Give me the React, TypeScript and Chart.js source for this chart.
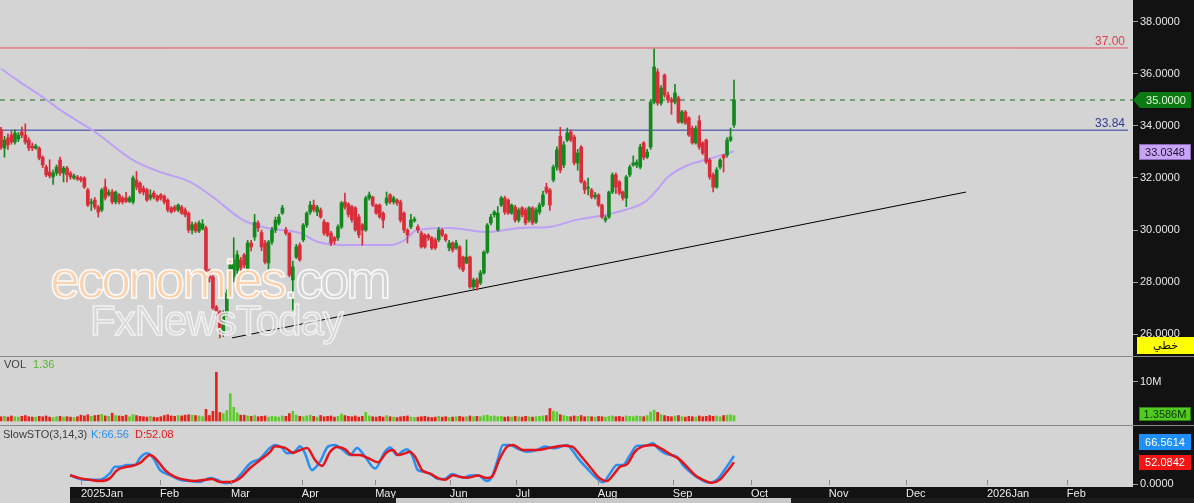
import React, { useEffect, useRef } from "react";
import { Chart, registerables } from "chart.js";
Chart.register(...registerables);

const FONT = '"Liberation Sans", Arial, sans-serif';
Chart.defaults.font.family = FONT;

// ---------- DATA ----------
const monthTickIdx = [23.0, 45.8, 66.2, 86.6, 107.7, 129.2, 148.2, 171.8, 193.4, 215.9, 238.3, 260.5, 283.8, 306.8];
const monthTickLabels = ["2025Jan", "Feb", "Mar", "Apr", "May", "Jun", "Jul", "Aug", "Sep", "Oct", "Nov", "Dec", "2026Jan", "Feb"];

const opens = [
  33.85, 33.15, 33.54, 33.65, 33.38, 33.50, 33.77, 33.65, 33.46, 33.23,
  33.15, 33.15, 32.80, 32.42, 32.23, 32.04, 32.19, 32.69, 32.19, 32.38,
  32.19, 32.00, 32.04, 32.00, 32.00, 31.54, 31.03, 31.15, 30.88, 30.77,
  31.65, 31.35, 31.46, 31.08, 31.35, 31.23, 31.23, 31.10, 31.08, 31.92,
  31.80, 31.60, 31.54, 31.23, 31.42, 31.30, 31.35, 31.30, 31.15, 30.85,
  30.88, 30.77, 30.88, 30.77, 30.65, 30.00, 30.23, 29.96, 30.04, 30.08,
  28.46, 28.19, 27.04, 26.85, 26.08, 26.80, 27.58, 28.20, 28.45, 28.85,
  29.04, 28.46, 29.50, 29.73, 30.27, 29.90, 29.50, 28.73, 29.54, 30.00,
  30.27, 30.65, 30.00, 29.88, 28.08, 28.96, 29.42, 29.62, 30.19, 30.69,
  30.96, 30.69, 30.77, 30.31, 30.27, 29.88, 29.70, 29.70, 30.12, 31.08,
  31.00, 30.90, 30.85, 30.50, 30.20, 30.00, 31.23, 31.27, 30.96, 30.96,
  30.65, 31.04, 31.35, 31.08, 31.15, 31.08, 30.65, 30.00, 30.12, 30.35,
  30.12, 29.88, 29.80, 29.80, 29.70, 29.62, 29.62, 30.00, 29.81, 29.31,
  29.50, 29.31, 29.35, 28.96, 28.73, 28.96, 27.81, 28.08, 27.96, 28.35,
  29.15, 30.27, 30.58, 30.00, 30.96, 31.23, 31.15, 30.65, 30.88, 30.38,
  30.85, 30.77, 30.38, 30.85, 30.31, 30.69, 30.96, 31.65, 31.54, 31.92,
  32.42, 33.60, 32.50, 33.46, 33.77, 33.58, 32.58, 33.19, 31.85, 31.60,
  31.54, 31.27, 31.35, 30.96, 30.38, 30.50, 31.46, 32.12, 31.85, 31.46,
  31.23, 32.12, 32.50, 32.50, 32.42, 33.35, 32.80, 33.19, 34.92, 36.08,
  34.88, 35.96, 35.19, 35.00, 34.92, 35.08, 34.15, 34.54, 34.31, 33.92,
  33.35, 34.20, 33.35, 33.46, 32.69, 32.12, 31.65, 32.42, 32.88, 32.88,
  33.46, 34.04,
];
const highs = [
  33.95, 33.60, 33.70, 33.80, 33.85, 33.75, 33.96, 34.08, 33.55, 33.35,
  33.30, 33.20, 32.85, 32.50, 32.70, 32.30, 32.50, 32.80, 32.45, 32.45,
  32.25, 32.15, 32.10, 32.05, 32.05, 31.60, 31.20, 31.25, 30.95, 31.60,
  31.96, 31.55, 31.55, 31.50, 31.40, 31.30, 31.45, 31.30, 32.08, 32.25,
  31.85, 31.70, 31.60, 31.55, 31.50, 31.35, 31.40, 31.35, 31.20, 30.90,
  30.95, 31.00, 30.95, 30.85, 30.70, 30.30, 30.30, 30.35, 30.40, 30.15,
  28.50, 28.25, 27.10, 26.90, 26.90, 27.70, 28.75, 29.70, 29.20, 28.95,
  29.10, 29.60, 29.60, 30.60, 30.35, 30.00, 29.60, 29.60, 30.10, 30.50,
  30.60, 30.95, 30.10, 29.90, 28.80, 29.45, 29.50, 30.25, 30.70, 31.10,
  31.15, 30.95, 30.85, 30.40, 30.30, 29.95, 29.75, 30.20, 31.10, 31.42,
  31.05, 30.95, 30.90, 30.60, 30.25, 31.30, 31.46, 31.30, 31.00, 31.00,
  30.70, 31.46, 31.40, 31.30, 31.20, 31.15, 30.70, 30.05, 30.60, 30.50,
  30.20, 29.95, 29.85, 29.85, 29.75, 29.70, 30.10, 30.05, 29.85, 29.60,
  29.55, 29.60, 29.40, 29.00, 29.62, 29.00, 28.15, 28.15, 28.45, 29.20,
  30.25, 30.60, 30.75, 30.90, 31.30, 31.30, 31.20, 31.00, 30.95, 30.85,
  30.90, 30.85, 30.90, 30.90, 30.85, 31.05, 31.50, 31.80, 31.60, 32.50,
  33.20, 33.95, 33.40, 33.92, 33.85, 33.65, 33.10, 33.25, 31.90, 32.00,
  31.60, 31.45, 31.40, 31.00, 30.55, 31.50, 32.20, 32.20, 31.90, 31.50,
  32.10, 32.50, 32.85, 32.70, 33.30, 33.40, 33.10, 35.00, 36.96, 36.20,
  35.55, 36.00, 35.30, 35.10, 35.60, 35.15, 34.60, 34.60, 34.35, 34.00,
  34.00, 34.40, 33.40, 33.50, 32.75, 32.20, 32.40, 32.75, 32.90, 33.55,
  33.92, 35.77,
];
const lows = [
  33.10, 32.80, 33.10, 33.30, 33.30, 33.40, 33.55, 33.30, 33.05, 33.05,
  33.10, 32.70, 32.40, 32.05, 32.00, 31.75, 32.10, 32.10, 31.85, 31.85,
  31.95, 31.95, 31.90, 31.85, 31.60, 30.90, 30.75, 30.80, 30.50, 30.70,
  31.15, 31.30, 31.00, 31.00, 31.00, 31.00, 31.05, 31.05, 31.00, 31.55,
  31.40, 31.35, 31.10, 31.15, 31.20, 31.10, 31.15, 31.00, 30.70, 30.65,
  30.70, 30.70, 30.60, 30.50, 29.90, 29.85, 29.90, 29.90, 30.00, 28.40,
  28.00, 26.95, 26.70, 25.85, 25.90, 26.70, 27.50, 28.00, 28.30, 28.40,
  28.55, 28.40, 29.20, 29.60, 29.95, 29.20, 28.70, 28.50, 29.45, 29.90,
  30.20, 30.60, 29.80, 28.20, 26.92, 28.90, 28.80, 29.55, 30.10, 30.60,
  30.70, 30.55, 30.45, 29.80, 29.75, 29.40, 29.45, 29.60, 30.05, 30.80,
  30.50, 30.30, 29.95, 29.70, 29.42, 29.95, 31.15, 30.90, 30.60, 30.45,
  30.08, 30.95, 31.00, 31.00, 30.95, 30.30, 29.90, 29.50, 30.05, 30.30,
  29.90, 29.30, 29.30, 29.60, 29.25, 29.25, 29.55, 29.75, 29.55, 29.20,
  29.15, 29.25, 28.50, 28.40, 28.70, 27.75, 27.70, 27.69, 27.90, 28.30,
  29.10, 30.20, 30.50, 29.95, 30.90, 30.60, 30.60, 30.60, 30.30, 30.30,
  30.50, 30.20, 30.30, 30.20, 30.25, 30.60, 30.90, 31.40, 30.75, 31.85,
  32.30, 32.20, 32.40, 33.40, 33.40, 32.50, 32.30, 31.80, 31.40, 31.35,
  31.20, 31.20, 30.90, 30.45, 30.30, 30.45, 31.40, 31.40, 31.35, 31.15,
  30.90, 32.05, 32.45, 32.40, 32.35, 32.70, 32.75, 33.10, 34.85, 34.80,
  34.80, 35.10, 34.90, 34.45, 34.85, 34.10, 34.10, 34.05, 33.60, 33.30,
  33.30, 33.10, 32.90, 32.55, 31.95, 31.46, 31.60, 32.35, 32.23, 32.80,
  33.40, 33.95,
];
const closes = [
  33.19, 33.46, 33.27, 33.38, 33.73, 33.65, 33.65, 33.38, 33.15, 33.15,
  33.23, 32.77, 32.50, 32.12, 32.08, 32.19, 32.42, 32.19, 32.38, 32.12,
  32.04, 32.08, 31.96, 31.92, 31.65, 30.96, 31.08, 30.88, 30.69, 31.54,
  31.23, 31.46, 31.08, 31.46, 31.08, 31.08, 31.10, 31.23, 32.00, 31.65,
  31.46, 31.46, 31.15, 31.35, 31.27, 31.15, 31.23, 31.08, 30.77, 30.69,
  30.77, 30.96, 30.65, 30.58, 30.00, 30.20, 29.96, 30.27, 30.23, 28.46,
  28.15, 27.00, 26.85, 26.15, 26.80, 27.58, 28.65, 28.85, 29.05, 28.54,
  28.65, 29.50, 29.35, 30.30, 30.08, 29.35, 28.77, 29.54, 30.00, 30.38,
  30.50, 30.85, 29.88, 28.27, 28.58, 29.35, 28.85, 30.19, 30.65, 30.96,
  30.77, 30.88, 30.50, 29.88, 29.80, 29.50, 29.58, 30.12, 31.04, 30.88,
  30.60, 30.40, 30.00, 29.81, 30.00, 31.23, 31.35, 30.96, 30.65, 30.50,
  30.38, 31.23, 31.08, 31.23, 31.04, 30.38, 30.00, 29.81, 30.38, 30.42,
  30.00, 29.35, 29.35, 29.70, 29.31, 29.31, 30.00, 29.81, 29.62, 29.50,
  29.23, 29.50, 28.58, 28.46, 28.96, 27.81, 28.08, 27.81, 28.35, 29.15,
  30.19, 30.50, 30.69, 30.65, 31.23, 30.69, 30.65, 30.96, 30.38, 30.77,
  30.58, 30.27, 30.85, 30.27, 30.77, 30.96, 31.35, 31.46, 30.96, 32.42,
  33.08, 32.30, 33.27, 33.73, 33.46, 32.58, 32.96, 31.85, 31.54, 31.65,
  31.27, 31.35, 30.96, 30.50, 30.46, 31.46, 32.12, 31.65, 31.42, 31.23,
  32.04, 32.42, 32.58, 32.60, 33.19, 32.80, 33.00, 34.92, 36.27, 34.88,
  35.46, 35.19, 35.00, 34.92, 35.27, 34.15, 34.54, 34.12, 33.65, 33.35,
  33.90, 33.19, 32.96, 32.62, 32.04, 31.65, 32.31, 32.69, 32.77, 33.46,
  33.58, 35.00,
];
// volume in millions
const volumes = [
  1.1, 1.2, 1.0, 1.3, 1.1, 1.0, 1.2, 1.4, 1.1, 1.0,
  1.0, 1.2, 1.1, 1.3, 1.0, 0.9, 1.1, 1.2, 1.0, 1.1,
  1.0, 0.9, 1.1, 1.5, 1.3, 1.6, 1.2, 1.4, 1.5, 1.7,
  1.3, 1.2, 2.0, 1.4, 1.3, 1.2, 1.5, 1.1, 1.6, 1.4,
  1.2, 1.1, 1.0, 1.2, 1.0, 0.9, 1.1, 1.4, 1.6, 1.3,
  1.2, 1.4, 1.3, 1.5, 1.6, 1.5, 1.4, 1.3, 1.1, 3.0,
  1.4, 2.5, 12.5, 2.2, 1.9, 2.7, 7.0, 3.5, 2.1, 1.5,
  1.5, 1.3, 1.2, 1.4, 1.1, 1.2, 1.3, 1.0, 1.2, 1.1,
  1.0, 1.3, 1.2, 1.9, 2.5, 1.5, 1.2, 1.1, 1.3, 1.5,
  1.2, 1.0, 1.4, 1.1, 1.2, 1.3, 1.0, 1.2, 1.8, 1.4,
  1.2, 1.1, 1.3, 1.0, 1.2, 2.2, 1.3, 1.1, 1.0, 1.2,
  1.0, 1.4, 1.1, 1.0, 0.9, 1.1, 1.2, 1.3, 1.0, 0.9,
  1.0, 1.1, 1.2, 1.0, 0.9, 1.0, 1.2, 1.0, 1.1, 0.9,
  1.0, 1.1, 1.2, 1.0, 1.1, 1.3, 1.1, 1.2, 1.1, 1.4,
  1.5, 1.2, 1.3, 1.1, 1.2, 1.0, 1.1, 1.0, 1.2, 1.1,
  1.0, 1.2, 1.1, 1.0, 1.1, 1.2, 1.3, 1.4, 3.2, 2.5,
  2.3, 1.6, 1.4, 1.2, 1.1, 1.3, 1.2, 1.4, 1.1, 1.2,
  1.1, 1.0, 1.2, 1.1, 1.0, 1.2, 1.3, 1.1, 1.2, 1.0,
  1.3, 1.2, 1.1, 1.3, 1.2, 1.1, 1.4, 2.3, 2.8, 2.2,
  1.6, 1.4, 1.2, 1.1, 1.3, 1.4, 1.1, 1.0, 1.2, 1.1,
  1.0, 1.3, 1.1, 1.2, 1.4, 1.2, 1.3, 1.1, 1.4, 1.5,
  1.6, 1.3586,
];

// moving average, bar index -> price
const maIdx = [0, 5.5, 13.2, 17.0, 27.1, 38.0, 45.8, 54.4, 61.0, 69.7, 76.6, 86.1, 91.2, 100.5, 112.0, 116.3, 119.7, 129.2, 139.9, 149.4, 158.0, 165.2, 173.9, 179.6, 185.4, 188.3, 192.0, 197.8, 202.6, 207.5, 211];
const maVal = [36.2, 35.69, 35.0, 34.62, 33.77, 32.69, 32.23, 31.85, 31.27, 30.38, 30.08, 29.88, 29.54, 29.42, 29.42, 29.62, 30.0, 30.08, 29.92, 30.08, 30.12, 30.38, 30.58, 30.77, 31.08, 31.46, 32.04, 32.5, 32.69, 32.88, 33.0348];

// Slow stochastic %K and %D
const kIdx = [19.9, 22.7, 25.6, 28.5, 31.4, 32.8, 34.3, 36.3, 38.6, 40.0, 42.0, 43.8, 45.8, 48.6, 51.5, 54.4, 57.3, 60.2, 62.2, 64.5, 66.8, 68.8, 71.7, 74.6, 77.4, 78.9, 80.9, 82.3, 84.6, 86.1, 87.5, 89.5, 91.8, 94.1, 96.1, 98.4, 100.5, 102.5, 104.8, 107.7, 110.5, 112.0, 114.0, 115.4, 116.9, 118.3, 120.0, 122.0, 124.1, 125.8, 127.8, 129.8, 131.3, 133.0, 135.0, 137.3, 139.9, 141.3, 142.8, 144.5, 146.5, 148.5, 151.4, 154.3, 156.6, 159.5, 162.9, 164.4, 166.1, 168.7, 171.0, 173.3, 175.3, 177.3, 179.0, 181.1, 183.1, 185.4, 187.7, 189.1, 191.7, 194.6, 196.3, 198.9, 201.2, 204.0, 206.1, 207.9, 211];
const kVal = [21, 12, 10, 10, 26, 41, 41, 45, 45, 62, 73, 62, 33, 21, 10, 7, 5, 14, 10, 2, 5, 21, 49, 61, 86, 93, 86, 73, 77, 90, 73, 33, 53, 89, 93, 81, 69, 86, 65, 37, 77, 87, 69, 77, 83, 69, 33, 29, 21, 12, 12, 24, 20, 15, 20, 21, 7, 17, 53, 93, 93, 85, 77, 81, 89, 85, 93, 81, 61, 37, 17, 4, 25, 45, 45, 69, 91, 91, 97, 85, 71, 65, 45, 25, 12, 3, 10, 29, 66.56];
const dIdx = [19.9, 22.7, 25.6, 28.5, 31.4, 33.4, 35.7, 37.7, 40.0, 42.9, 44.9, 47.2, 50.1, 53.0, 55.8, 58.7, 60.7, 63.0, 65.9, 68.8, 71.7, 74.6, 77.4, 78.9, 81.8, 84.1, 86.1, 88.1, 90.4, 92.4, 94.7, 96.7, 99.0, 101.0, 103.3, 105.6, 108.5, 111.1, 112.8, 114.3, 116.3, 117.7, 119.2, 121.2, 123.5, 125.8, 127.8, 130.1, 132.1, 134.4, 137.3, 139.9, 141.3, 143.6, 145.7, 147.4, 150.3, 154.3, 158.0, 161.8, 164.4, 166.7, 169.5, 171.9, 174.4, 176.2, 178.2, 180.2, 182.5, 184.5, 187.7, 190.3, 192.6, 194.9, 197.5, 199.8, 202.1, 204.7, 206.9, 208.9, 211];
const dVal = [21, 14, 10, 7, 14, 33, 40, 43, 50, 69, 57, 33, 17, 10, 7, 10, 12, 5, 5, 14, 38, 57, 76, 90, 86, 74, 81, 86, 57, 43, 76, 88, 83, 69, 69, 62, 52, 76, 81, 69, 73, 77, 65, 33, 25, 14, 10, 21, 17, 15, 20, 14, 17, 61, 89, 93, 81, 81, 86, 91, 89, 69, 41, 17, 7, 21, 41, 47, 77, 89, 93, 83, 71, 61, 41, 21, 10, 3, 10, 29, 52.08];

// reference lines
const resistanceLevel = 37.0;
const lastPriceLevel = 35.0;
const supportLevel = 33.84;
const trendIdx = [66.5, 277.8];
const trendVal = [25.85, 31.46];

// ---------- LAYOUT CONSTANTS ----------
const W = 1194;
const X_MIN = -0.288;
const X_MAX = 325.85;
const LINE_END = 324.4;
const UP = "#13891b";
const DN = "#d92d3a";
const VUP = "#5ccc28";
const VDN = "#e3231c";

const idx = closes.map((_, i) => i);
const isUp = closes.map((c, i) => c >= opens[i]);

function xScale(show: boolean) {
  return {
    type: "linear",
    min: X_MIN,
    max: X_MAX,
    offset: false,
    display: show,
    grid: { display: false, drawTicks: false, offset: false },
    border: { display: false },
    afterBuildTicks: (s: any) => {
      s.ticks = monthTickIdx.map((v) => ({ value: v }));
    },
    afterFit: (s: any) => {
      s.height = show ? 13 : 0;
      s.paddingLeft = 0;
      s.paddingRight = 0;
    },
    ticks: {
      autoSkip: false,
      maxRotation: 0,
      minRotation: 0,
      align: "start",
      padding: 2,
      color: "#ececec",
      font: { size: 11, family: FONT },
      callback: (_v: any, i: number) => monthTickLabels[i] ?? "",
    },
  };
}

function yScale(min: number, max: number, ticks: number[], fmt: (v: number) => string) {
  return {
    type: "linear",
    position: "right",
    min,
    max,
    grid: { drawOnChartArea: false, drawTicks: true, tickLength: 5, color: "#a0a0a0" },
    border: { display: false },
    afterBuildTicks: (s: any) => {
      s.ticks = ticks.map((v) => ({ value: v }));
    },
    afterFit: (s: any) => {
      s.width = 61;
      s.paddingTop = 0;
      s.paddingBottom = 0;
    },
    ticks: {
      padding: 2,
      color: "#e8e8e8",
      font: { size: 11, family: FONT },
      callback: (v: any) => fmt(Number(v)),
    },
  };
}

function baseOptions(scales: any) {
  return {
    responsive: false,
    animation: false,
    devicePixelRatio: 1,
    events: [],
    layout: { padding: 0 },
    plugins: { legend: { display: false }, tooltip: { enabled: false } },
    scales,
  };
}

function drawBox(ctx: CanvasRenderingContext2D, x: number, y: number, w: number, h: number, bg: string, border: string | null, text: string, color: string, font: string) {
  ctx.fillStyle = bg;
  ctx.fillRect(x, y, w, h);
  if (border) {
    ctx.strokeStyle = border;
    ctx.lineWidth = 1;
    ctx.strokeRect(x + 0.5, y + 0.5, w - 1, h - 1);
  }
  ctx.fillStyle = color;
  ctx.font = font;
  ctx.textAlign = "center";
  ctx.textBaseline = "middle";
  ctx.fillText(text, x + w / 2, y + h / 2 + 0.5);
}

const mainOverlay = {
  id: "mainOverlay",
  afterDatasetsDraw(chart: any) {
    const ctx = chart.ctx as CanvasRenderingContext2D;
    ctx.save();
    // watermark
    ctx.globalAlpha = 0.9;
    ctx.font = `54px ${FONT}`;
    (ctx as any).letterSpacing = "-3px";
    ctx.textAlign = "left";
    ctx.textBaseline = "alphabetic";
    ctx.lineWidth = 1.5;
    ctx.strokeStyle = "#ffffff";
    ctx.fillStyle = "#ffd0aa";
    ctx.fillText("economies", 50, 298);
    ctx.strokeText("economies", 50, 298);
    const w1 = ctx.measureText("economies").width;
    ctx.fillStyle = "#d2d2d2";
    ctx.fillText(".com", 50 + w1 - 1, 298);
    ctx.strokeText(".com", 50 + w1 - 1, 298);
    ctx.font = `42px ${FONT}`;
    (ctx as any).letterSpacing = "-1px";
    ctx.fillStyle = "rgba(214,214,214,0.7)";
    ctx.strokeStyle = "#f4f4f4";
    ctx.fillText("FxNewsToday", 90, 335);
    ctx.strokeText("FxNewsToday", 90, 335);
    ctx.restore();
  },
  afterDraw(chart: any) {
    const ctx = chart.ctx as CanvasRenderingContext2D;
    const y = chart.scales.y;
    ctx.save();
    ctx.font = `12px ${FONT}`;
    ctx.textAlign = "right";
    ctx.textBaseline = "alphabetic";
    ctx.fillStyle = "#e0404c";
    ctx.fillText(resistanceLevel.toFixed(2), 1125, y.getPixelForValue(resistanceLevel) - 3);
    ctx.fillStyle = "#2e3c94";
    ctx.fillText(supportLevel.toFixed(2), 1125, y.getPixelForValue(supportLevel) - 3);

    // last price arrow box
    const yg = Math.round(y.getPixelForValue(lastPriceLevel));
    ctx.fillStyle = "#0c7a12";
    ctx.beginPath();
    ctx.moveTo(1133, yg);
    ctx.lineTo(1140, yg - 8);
    ctx.lineTo(1191, yg - 8);
    ctx.lineTo(1191, yg + 8);
    ctx.lineTo(1140, yg + 8);
    ctx.closePath();
    ctx.fill();
    ctx.fillStyle = "#e4f8dc";
    ctx.font = `11px ${FONT}`;
    ctx.textAlign = "center";
    ctx.textBaseline = "middle";
    ctx.fillText(lastPriceLevel.toFixed(4), 1166, yg + 0.5);

    // MA value box
    const maLast = maVal[maVal.length - 1];
    const yp = Math.round(y.getPixelForValue(maLast));
    drawBox(ctx, 1139, yp - 7, 52, 16, "#c9a4f6", "#8a6ab8", maLast.toFixed(4), "#1e1432", `11px ${FONT}`);

    // chart type box
    drawBox(ctx, 1137, 337, 57, 17, "#ffff00", null, "خطي", "#000000", `11px "DejaVu Sans", ${FONT}`);
    ctx.restore();
  },
};

const volOverlay = {
  id: "volOverlay",
  afterDraw(chart: any) {
    const ctx = chart.ctx as CanvasRenderingContext2D;
    ctx.save();
    ctx.font = `11px ${FONT}`;
    ctx.textAlign = "left";
    ctx.textBaseline = "alphabetic";
    ctx.fillStyle = "#404040";
    ctx.fillText("VOL", 4, 11);
    ctx.fillStyle = "#55b82a";
    ctx.fillText("1.36", 33, 11);
    const last = volumes[volumes.length - 1];
    drawBox(ctx, 1139, 50, 52, 14, "#50cc1e", "#2f7f12", last.toFixed(4) + "M", "#0b2f05", `11px ${FONT}`);
    ctx.restore();
  },
};

const stoOverlay = {
  id: "stoOverlay",
  afterDraw(chart: any) {
    const ctx = chart.ctx as CanvasRenderingContext2D;
    const xs = chart.scales.x;
    const area = chart.chartArea;
    ctx.save();
    // x tick marks
    ctx.strokeStyle = "#8c8c8c";
    ctx.lineWidth = 1;
    monthTickIdx.forEach((v) => {
      const px = Math.round(xs.getPixelForValue(v)) + 0.5;
      ctx.beginPath();
      ctx.moveTo(px, area.bottom - 5);
      ctx.lineTo(px, area.bottom);
      ctx.stroke();
    });
    ctx.font = `11px ${FONT}`;
    ctx.textAlign = "left";
    ctx.textBaseline = "alphabetic";
    ctx.fillStyle = "#3c3c3c";
    ctx.fillText("SlowSTO(3,14,3)", 3, 12);
    ctx.fillStyle = "#2a8ff0";
    ctx.fillText("K:" + kVal[kVal.length - 1].toFixed(2), 91, 12);
    ctx.fillStyle = "#e3151a";
    ctx.fillText("D:" + dVal[dVal.length - 1].toFixed(2), 135, 12);
    drawBox(ctx, 1139, 8, 52, 16, "#1e8ef8", null, "66.5614", "#ffffff", `11px ${FONT}`);
    drawBox(ctx, 1139, 29, 52, 15, "#f51414", null, "52.0842", "#ffffff", `11px ${FONT}`);
    ctx.restore();
  },
};

export default function App() {
  const mainRef = useRef<HTMLCanvasElement>(null);
  const volRef = useRef<HTMLCanvasElement>(null);
  const stoRef = useRef<HTMLCanvasElement>(null);

  useEffect(() => {
    const candleColors = isUp.map((u) => (u ? UP : DN));
    const main = new Chart(mainRef.current as HTMLCanvasElement, {
      type: "bar",
      data: {
        datasets: [
          {
            type: "bar",
            data: idx.map((i) => ({ x: i, y: [lows[i], highs[i]] })),
            backgroundColor: candleColors,
            barThickness: 1,
            grouped: false,
            order: 1,
          },
          {
            type: "bar",
            data: idx.map((i) => ({ x: i, y: [opens[i], closes[i]] })),
            backgroundColor: candleColors,
            barThickness: 3,
            minBarLength: 1,
            grouped: false,
            order: 0,
          },
          {
            type: "line",
            data: maIdx.map((x, k) => ({ x, y: maVal[k] })),
            borderColor: "#bea0f6",
            borderWidth: 2,
            pointRadius: 0,
            cubicInterpolationMode: "monotone",
            order: 2,
          },
          {
            type: "line",
            data: [{ x: X_MIN, y: resistanceLevel }, { x: LINE_END, y: resistanceLevel }],
            borderColor: "#e8505a",
            borderWidth: 1,
            pointRadius: 0,
            order: 3,
          },
          {
            type: "line",
            data: [{ x: X_MIN, y: supportLevel }, { x: LINE_END, y: supportLevel }],
            borderColor: "#2c3ca0",
            borderWidth: 1,
            pointRadius: 0,
            order: 3,
          },
          {
            type: "line",
            data: [{ x: X_MIN, y: lastPriceLevel }, { x: X_MAX, y: lastPriceLevel }],
            borderColor: "#1d6b1d",
            borderWidth: 1,
            borderDash: [5, 5],
            pointRadius: 0,
            order: 3,
          },
          {
            type: "line",
            data: trendIdx.map((x, k) => ({ x, y: trendVal[k] })),
            borderColor: "#000000",
            borderWidth: 1,
            pointRadius: 0,
            order: 3,
          },
        ],
      } as any,
      options: baseOptions({
        x: xScale(false),
        y: yScale(25.154, 38.846, [26, 28, 30, 32, 34, 36, 38], (v) => v.toFixed(4)),
      }) as any,
      plugins: [mainOverlay],
    });

    const vol = new Chart(volRef.current as HTMLCanvasElement, {
      type: "bar",
      data: {
        datasets: [
          {
            type: "bar",
            data: idx.map((i) => ({ x: i, y: volumes[i] })),
            backgroundColor: isUp.map((u) => (u ? VUP : VDN)),
            barThickness: 2,
            grouped: false,
          },
        ],
      } as any,
      options: baseOptions({
        x: xScale(false),
        y: yScale(-1.026, 16.41, [10], (v) => v + "M"),
      }) as any,
      plugins: [volOverlay],
    });

    const sto = new Chart(stoRef.current as HTMLCanvasElement, {
      type: "line",
      data: {
        datasets: [
          {
            data: kIdx.map((x, k) => ({ x, y: kVal[k] })),
            borderColor: "#2a8ff0",
            borderWidth: 2.5,
            pointRadius: 0,
            cubicInterpolationMode: "monotone",
            order: 1,
          },
          {
            data: dIdx.map((x, k) => ({ x, y: dVal[k] })),
            borderColor: "#e3151a",
            borderWidth: 2.5,
            pointRadius: 0,
            cubicInterpolationMode: "monotone",
            order: 0,
          },
        ],
      } as any,
      options: baseOptions({
        x: xScale(true),
        y: yScale(-2.38, 138.1, [0], (v) => v.toFixed(4)),
      }) as any,
      plugins: [stoOverlay],
    });

    return () => {
      main.destroy();
      vol.destroy();
      sto.destroy();
    };
  }, []);

  const abs = (s: React.CSSProperties): React.CSSProperties => ({ position: "absolute", ...s });

  return (
    <div style={{ position: "fixed", left: 0, top: 0, width: W, height: 503, background: "#d4d4d4", overflow: "hidden" }}>
      <div style={abs({ left: 1133, top: 0, width: 61, height: 503, background: "#121212" })} />
      <div style={abs({ left: 70, top: 487, width: 1063, height: 11, background: "#121212" })} />
      <div style={abs({ left: 70, top: 498, width: 1124, height: 5, background: "#1c1c1c" })} />
      <div style={abs({ left: 396, top: 498, width: 395, height: 5, background: "#c8c8c8" })} />
      <canvas ref={mainRef} width={W} height={356} style={abs({ left: 0, top: 0, display: "block" })} />
      <canvas ref={volRef} width={W} height={68} style={abs({ left: 0, top: 357, display: "block" })} />
      <canvas ref={stoRef} width={W} height={72} style={abs({ left: 0, top: 426, display: "block" })} />
      <div style={abs({ left: 0, top: 356, width: W, height: 1, background: "#8a8a8a" })} />
      <div style={abs({ left: 0, top: 425, width: W, height: 1, background: "#8a8a8a" })} />
    </div>
  );
}
